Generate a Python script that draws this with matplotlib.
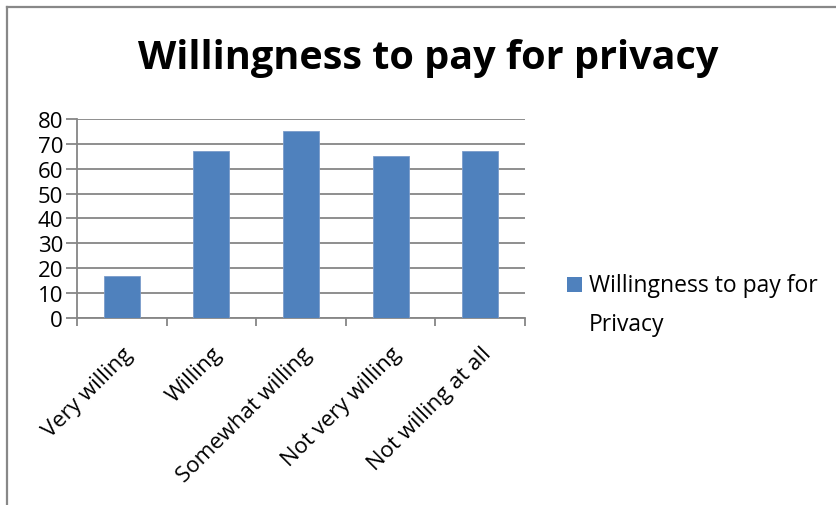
import matplotlib.pyplot as plt
from matplotlib.lines import Line2D
from matplotlib.patches import Rectangle

plt.rcParams['font.family'] = ['Open Sans', 'DejaVu Sans']

categories = ['Very willing', 'Willing', 'Somewhat willing', 'Not very willing', 'Not willing at all']
values = [17, 67, 75, 65, 67]
series_name = 'Willingness to pay for\nPrivacy'
title = 'Willingness to pay for privacy'
yticks = [0, 10, 20, 30, 40, 50, 60, 70, 80]

bar_color = '#4F81BD'
grid_color = '#868686'

fig = plt.figure(figsize=(8.37, 5.06), dpi=100)
W, H = 837, 506

# outer chart frame (top and left edges only)
fig.add_artist(Line2D([7.5 / W, 7.5 / W], [0, 1 - 7.5 / H], transform=fig.transFigure,
                      color='#888888', lw=1.6))
fig.add_artist(Line2D([7.5 / W, 1], [1 - 7.5 / H, 1 - 7.5 / H], transform=fig.transFigure,
                      color='#888888', lw=1.6))

ax = fig.add_axes([77 / W, 1 - 319 / H, (525 - 77) / W, (319 - 120) / H])
x = list(range(len(categories)))
ax.bar(x, values, width=0.4, color=bar_color, edgecolor='#7A9CCB', linewidth=0.6, zorder=3)
ax.set_xlim(-0.5, len(categories) - 0.5)
ax.set_ylim(0, 80)
ax.set_yticks(yticks)
ax.set_yticklabels([str(v) for v in yticks], fontsize=16)
ax.yaxis.grid(True, color=grid_color, lw=1.3)
ax.set_axisbelow(True)

for s in ['top', 'right']:
    ax.spines[s].set_visible(False)
ax.spines['left'].set_color(grid_color)
ax.spines['bottom'].set_color(grid_color)
ax.spines['left'].set_linewidth(1.3)
ax.spines['bottom'].set_linewidth(1.3)

# category boundary ticks on the x axis
ax.set_xticks([i - 0.5 for i in range(len(categories) + 1)])
ax.set_xticklabels([])
ax.set_xticks(x, minor=True)
ax.set_xticklabels(categories, minor=True, rotation=45, ha='right', va='top',
                   rotation_mode='anchor', fontsize=16)
ax.tick_params(axis='x', which='major', length=6, width=1.3, color=grid_color, direction='out')
ax.tick_params(axis='x', which='minor', length=0, pad=18)
ax.tick_params(axis='y', length=8, width=1.3, color=grid_color, pad=2)

fig.text(428 / W, 1 - 58 / H, title, ha='center', va='center', fontsize=28.5, fontweight='bold')

# legend: colour square and wrapped series name
fig.add_artist(Rectangle((567 / W, 1 - 293 / H), 15 / W, 15 / H, transform=fig.transFigure,
                         facecolor=bar_color, edgecolor='none'))
fig.text(589 / W, 1 - 274 / H, series_name, ha='left', va='top', fontsize=16.5,
         linespacing=1.85)

fig.savefig('out.png', dpi=100)
